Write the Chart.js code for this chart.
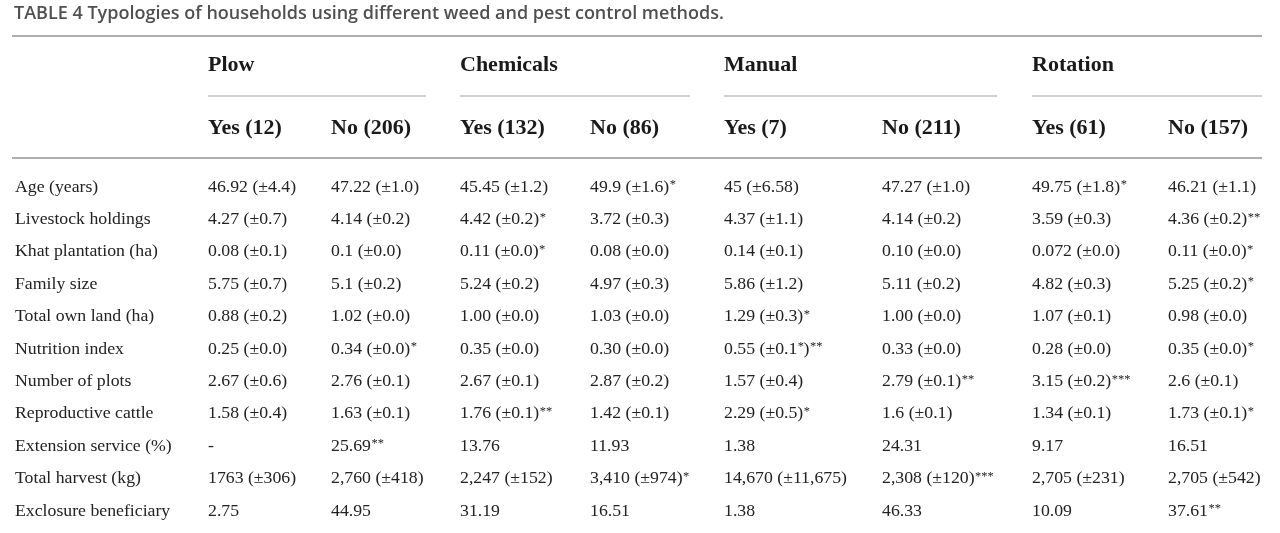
<!DOCTYPE html>
<html>
<head>
<meta charset="utf-8">
<script src="https://cdn.jsdelivr.net/npm/chart.js@4/dist/chart.umd.min.js"></script>
<style>
  html, body { margin: 0; padding: 0; background: #fff; }
  #wrap { width: 1280px; height: 533px; }
</style>
</head>
<body>
<div id="wrap"><canvas id="typologyTable"></canvas></div>
<script>
// table content
var rowLabels = ['Age (years)', 'Livestock holdings', 'Khat plantation (ha)', 'Family size',
  'Total own land (ha)', 'Nutrition index', 'Number of plots', 'Reproductive cattle',
  'Extension service (%)', 'Total harvest (kg)', 'Exclosure beneficiary'];
var methods = ['Plow', 'Chemicals', 'Manual', 'Rotation'];
var subHeads = ['Yes (12)', 'No (206)', 'Yes (132)', 'No (86)', 'Yes (7)', 'No (211)', 'Yes (61)', 'No (157)'];

var plowYes   = ['46.92 (±4.4)', '4.27 (±0.7)', '0.08 (±0.1)', '5.75 (±0.7)', '0.88 (±0.2)', '0.25 (±0.0)', '2.67 (±0.6)', '1.58 (±0.4)', '-', '1763 (±306)', '2.75'];
var plowNo    = ['47.22 (±1.0)', '4.14 (±0.2)', '0.1 (±0.0)', '5.1 (±0.2)', '1.02 (±0.0)', '0.34 (±0.0)*', '2.76 (±0.1)', '1.63 (±0.1)', '25.69**', '2,760 (±418)', '44.95'];
var chemYes   = ['45.45 (±1.2)', '4.42 (±0.2)*', '0.11 (±0.0)*', '5.24 (±0.2)', '1.00 (±0.0)', '0.35 (±0.0)', '2.67 (±0.1)', '1.76 (±0.1)**', '13.76', '2,247 (±152)', '31.19'];
var chemNo    = ['49.9 (±1.6)*', '3.72 (±0.3)', '0.08 (±0.0)', '4.97 (±0.3)', '1.03 (±0.0)', '0.30 (±0.0)', '2.87 (±0.2)', '1.42 (±0.1)', '11.93', '3,410 (±974)*', '16.51'];
var manualYes = ['45 (±6.58)', '4.37 (±1.1)', '0.14 (±0.1)', '5.86 (±1.2)', '1.29 (±0.3)*', '0.55 (±0.1*)**', '1.57 (±0.4)', '2.29 (±0.5)*', '1.38', '14,670 (±11,675)', '1.38'];
var manualNo  = ['47.27 (±1.0)', '4.14 (±0.2)', '0.10 (±0.0)', '5.11 (±0.2)', '1.00 (±0.0)', '0.33 (±0.0)', '2.79 (±0.1)**', '1.6 (±0.1)', '24.31', '2,308 (±120)***', '46.33'];
var rotYes    = ['49.75 (±1.8)*', '3.59 (±0.3)', '0.072 (±0.0)', '4.82 (±0.3)', '1.07 (±0.1)', '0.28 (±0.0)', '3.15 (±0.2)***', '1.34 (±0.1)', '9.17', '2,705 (±231)', '10.09'];
var rotNo     = ['46.21 (±1.1)', '4.36 (±0.2)**', '0.11 (±0.0)*', '5.25 (±0.2)*', '0.98 (±0.0)', '0.35 (±0.0)*', '2.6 (±0.1)', '1.73 (±0.1)*', '16.51', '2,705 (±542)', '37.61**'];

var columns = [plowYes, plowNo, chemYes, chemNo, manualYes, manualNo, rotYes, rotNo];

// layout (x in px units of the x scale, y in row units of the y scale)
var colLeft = [15, 208, 331, 460, 590, 724, 882, 1032, 1168];
var groupRight = [426, 690, 997, 1262];
var tableLeft = 12, tableRight = 1262;
var rowH = 32.4, firstRowPx = 187, areaTop = 35;
var yMin = -(firstRowPx - areaTop) / rowH;
var yMax = yMin + (533 - areaTop) / rowH;
function rowOf(px) { return (px - firstRowPx) / rowH; }

var serif = '"Liberation Serif", "Times New Roman", serif';

// one point per cell, text is drawn at the point position
var cells = [];
columns.forEach(function (col, c) {
  col.forEach(function (txt, r) {
    cells.push({ x: colLeft[c + 1], y: r, t: txt });
  });
});

// text with superscript significance stars
function drawCell(ctx, txt, x, y, size, weight) {
  var parts = txt.split(/(\*+)/);
  parts.forEach(function (p) {
    if (!p) return;
    if (p.charAt(0) === '*') {
      ctx.font = '12.5px ' + serif;
      ctx.fillText(p, x + 0.5, y - 2);
    } else {
      ctx.font = (weight || 'normal') + ' ' + size + 'px ' + serif;
      ctx.fillText(p, x, y);
    }
    x += ctx.measureText(p).width;
  });
}

var tablePlugin = {
  id: 'tablePlugin',
  afterDraw: function (chart) {
    var ctx = chart.ctx;
    var xs = chart.scales.x, ys = chart.scales.y;
    ctx.save();

    // rules
    function hline(x1, x2, row, color) {
      var py = Math.round(ys.getPixelForValue(row));
      ctx.strokeStyle = color;
      ctx.lineWidth = 2;
      ctx.beginPath();
      ctx.moveTo(xs.getPixelForValue(x1), py);
      ctx.lineTo(xs.getPixelForValue(x2), py);
      ctx.stroke();
    }
    hline(tableLeft, tableRight, rowOf(36), '#aeaeae');
    hline(tableLeft, tableRight, rowOf(158), '#aeaeae');
    methods.forEach(function (m, g) {
      hline(colLeft[1 + g * 2], groupRight[g], rowOf(96), '#d0d0d0');
    });

    ctx.textAlign = 'left';
    ctx.textBaseline = 'middle';

    // headers
    ctx.fillStyle = '#1a1a1a';
    methods.forEach(function (m, g) {
      drawCell(ctx, m, xs.getPixelForValue(colLeft[1 + g * 2]), ys.getPixelForValue(rowOf(65)), 22, 'bold');
    });
    subHeads.forEach(function (h, c) {
      drawCell(ctx, h, xs.getPixelForValue(colLeft[c + 1]), ys.getPixelForValue(rowOf(128)), 22, 'bold');
    });

    // row labels
    ctx.fillStyle = '#222';
    rowLabels.forEach(function (lab, r) {
      drawCell(ctx, lab, xs.getPixelForValue(colLeft[0]), ys.getPixelForValue(r), 17.75);
    });

    // cells
    var meta = chart.getDatasetMeta(0);
    meta.data.forEach(function (pt, i) {
      drawCell(ctx, cells[i].t, pt.x, pt.y, 17.75);
    });
    ctx.restore();
  }
};

var tableCanvas = document.getElementById('typologyTable');
var tableConfig = {
  type: 'scatter',
  data: {
    datasets: [{
      data: cells,
      pointRadius: 0,
      pointHoverRadius: 0
    }]
  },
  options: {
    responsive: true,
    maintainAspectRatio: false,
    animation: false,
    events: [],
    layout: { padding: { left: 14, right: 0, top: 0, bottom: 0 } },
    scales: {
      x: { type: 'linear', min: 14, max: 1280, display: false },
      y: { type: 'linear', reverse: true, min: yMin, max: yMax, display: false }
    },
    plugins: {
      legend: { display: false },
      tooltip: { enabled: false },
      title: {
        display: true,
        text: 'TABLE 4 Typologies of households using different weed and pest control methods.',
        align: 'start',
        color: '#505050',
        font: { family: '"Open Sans", "Noto Sans", sans-serif', size: 18, weight: '600', lineHeight: 1.2 },
        padding: { top: 3, bottom: 10.4 }
      }
    }
  },
  plugins: [tablePlugin]
};
var tableChart = new Chart(tableCanvas, tableConfig);
</script>
</body>
</html>
